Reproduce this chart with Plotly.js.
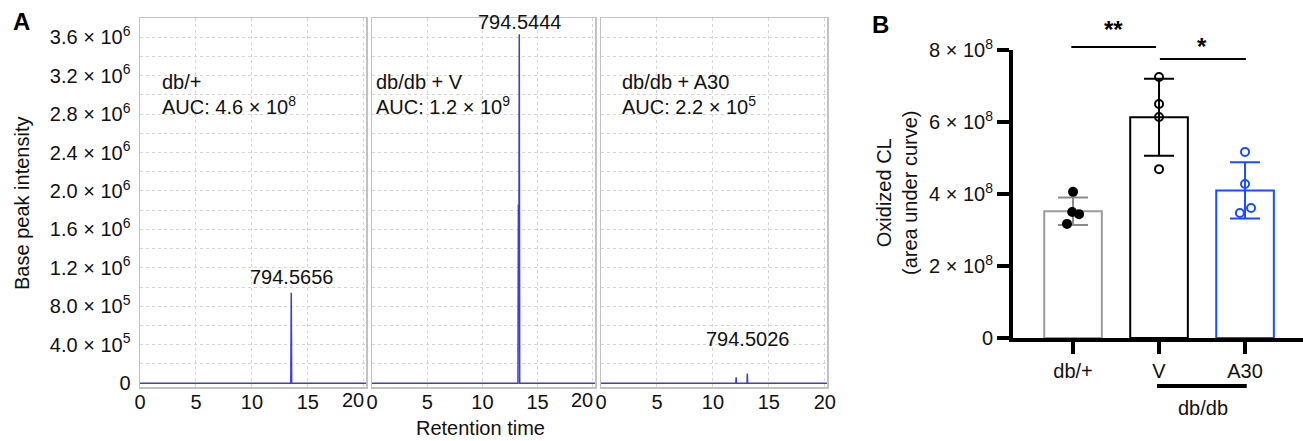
<!DOCTYPE html>
<html>
<head>
<meta charset="utf-8">
<script src="https://cdn.plot.ly/plotly-3.0.1.min.js"></script>
<style>html,body{margin:0;padding:0;background:#fff;}#chart{width:1303px;height:441px;}</style>
</head>
<body>
<div id="chart"></div>
<script>
// ---------- Panel A data (chromatograms) ----------
const rtDbPlus = [0, 13.48, 13.52, 13.56, 20.2];
const intDbPlus = [0, 0, 940000, 0, 0];
const rtDbV = [0, 13.22, 13.26, 13.30, 13.34, 13.38, 20.2];
const intDbV = [0, 0, 1860000, 900000, 3630000, 0, 0];
const rtDbA30 = [0, 12.05, 12.08, 12.11, 13.05, 13.08, 13.11, 20.2];
const intDbA30 = [0, 0, 60000, 0, 0, 100000, 0, 0];

const peakLabels = ["794.5656", "794.5444", "794.5026"];
const sampleNames = ["db/+", "db/db + V", "db/db + A30"];
const aucTexts = ["AUC: 4.6 × 10<sup>8</sup>", "AUC: 1.2 × 10<sup>9</sup>", "AUC: 2.2 × 10<sup>5</sup>"];

const intTickVals = [0, 200000, 400000, 600000, 800000, 1000000, 1200000, 1400000, 1600000, 1800000,
  2000000, 2200000, 2400000, 2600000, 2800000, 3000000, 3200000, 3400000, 3600000];
const intTickText = ["0", "", "4.0 × 10<sup>5</sup>", "", "8.0 × 10<sup>5</sup>", "", "1.2 × 10<sup>6</sup>", "",
  "1.6 × 10<sup>6</sup>", "", "2.0 × 10<sup>6</sup>", "", "2.4 × 10<sup>6</sup>", "", "2.8 × 10<sup>6</sup>", "",
  "3.2 × 10<sup>6</sup>", "", "3.6 × 10<sup>6</sup>"];
const rtTickVals = [0, 5, 10, 15, 20];
const rtTickText = ["0", "5", "10", "15", "20"];

// ---------- Panel B data ----------
const groups = ["db/+", "V", "A30"];
const groupPos = [0, 1, 2];
const means = [3.52e8, 6.13e8, 4.1e8];
const sds = [0.38e8, 1.07e8, 0.78e8];
const ptsDbPlusX = [0.0, -0.01, 0.07, -0.07];
const ptsDbPlusY = [4.06e8, 3.5e8, 3.44e8, 3.17e8];
const ptsVX = [0, 0, 0, 0];
const ptsVY = [7.25e8, 6.5e8, 6.14e8, 4.69e8];
const ptsA30X = [0, 0, 0.07, -0.06];
const ptsA30Y = [5.17e8, 4.28e8, 3.61e8, 3.47e8];
const barColors = ["#9b9b9b", "#000000", "#1a4dff"];
const bTickVals = [0, 2e8, 4e8, 6e8, 8e8];
const bTickText = ["0", "2 × 10<sup>8</sup>", "4 × 10<sup>8</sup>", "6 × 10<sup>8</sup>", "8 × 10<sup>8</sup>"];

const W = 1303, H = 441;
const px = v => v / W;
const py = v => 1 - v / H;
const FONT = "Liberation Sans, Arial, sans-serif";
const FS = 20;
const spike = "#3f3fcf";
const boxC = "#c2c2c2";
const gridC = "#d6d6d6";
const txt = "#111";

const traces = [
  {x: rtDbPlus, y: intDbPlus, xaxis: "x", yaxis: "y", type: "scatter", mode: "lines", line: {color: spike, width: 1.5}, hoverinfo: "skip"},
  {x: rtDbV, y: intDbV, xaxis: "x2", yaxis: "y2", type: "scatter", mode: "lines", line: {color: spike, width: 1.5}, hoverinfo: "skip"},
  {x: rtDbA30, y: intDbA30, xaxis: "x3", yaxis: "y3", type: "scatter", mode: "lines", line: {color: spike, width: 1.5}, hoverinfo: "skip"}
];

for (let i = 0; i < 3; i++) {
  traces.push({
    type: "bar", x: [groupPos[i]], y: [means[i]], xaxis: "x4", yaxis: "y4", width: 0.67,
    marker: {color: "rgba(255,255,255,0)", line: {color: barColors[i], width: 2}},
    error_y: {type: "data", array: [sds[i]], visible: true, color: barColors[i] === "#9b9b9b" ? "#8a8a8a" : barColors[i], thickness: 2, width: 15},
    hoverinfo: "skip"
  });
}
const ptSets = [[ptsDbPlusX, ptsDbPlusY, "circle", "#000000"], [ptsVX, ptsVY, "circle-open", "#000000"], [ptsA30X, ptsA30Y, "circle-open", "#1a4dff"]];
ptSets.forEach((s, i) => {
  traces.push({
    type: "scatter", mode: "markers", xaxis: "x4", yaxis: "y4",
    x: s[0].map(d => groupPos[i] + d), y: s[1],
    marker: {symbol: s[2], size: 8, color: s[3], line: {color: s[3], width: 2}},
    hoverinfo: "skip", cliponaxis: false
  });
});

// last label "20" of the first two panels is drawn right-aligned (as in the reference)
function rtAxis(d0, d1, shiftLast) {
  return {
    domain: [px(d0), px(d1)], range: [0, 20.2], tickmode: "array", tickvals: rtTickVals,
    ticktext: shiftLast ? rtTickText.map((t, i) => i === rtTickText.length - 1 ? "" : t) : rtTickText,
    showline: true, mirror: true, linecolor: boxC, linewidth: 1.5,
    showgrid: true, gridcolor: gridC, griddash: "dot", gridwidth: 1, zeroline: false,
    ticks: "", ticklabelstandoff: -4,
    tickfont: {family: FONT, size: FS, color: txt}, fixedrange: true
  };
}
function intAxis(showLabels) {
  return {
    domain: [py(387), py(18)], range: [-40000, 3800000], tickmode: "array", tickvals: intTickVals,
    ticktext: showLabels ? intTickText : intTickVals.map(() => ""),
    showticklabels: showLabels,
    showline: true, mirror: true, linecolor: boxC, linewidth: 1.5,
    showgrid: true, gridcolor: gridC, griddash: "dot", gridwidth: 1, zeroline: false,
    ticks: showLabels ? "outside" : "", ticklen: 4, tickcolor: "rgba(0,0,0,0)",
    tickfont: {family: FONT, size: FS, color: txt}, fixedrange: true
  };
}

const layout = {
  width: W, height: H, margin: {l: 0, r: 0, t: 0, b: 0},
  paper_bgcolor: "#fff", plot_bgcolor: "rgba(0,0,0,0)",
  showlegend: false, barmode: "overlay",
  font: {family: FONT, size: FS, color: txt},
  xaxis: rtAxis(140, 366, true),
  yaxis: intAxis(true),
  xaxis2: Object.assign(rtAxis(372, 595, true), {anchor: "y2"}),
  yaxis2: Object.assign(intAxis(false), {anchor: "x2"}),
  xaxis3: Object.assign(rtAxis(601, 827, false), {anchor: "y3"}),
  yaxis3: Object.assign(intAxis(false), {anchor: "x3"}),
  xaxis4: {
    domain: [px(1013), 1], range: [-0.698, 2.674], anchor: "y4",
    tickmode: "array", tickvals: groupPos, ticktext: groups,
    showline: true, linecolor: "#000", linewidth: 4, showgrid: false, zeroline: false,
    ticks: "outside", ticklen: 12, tickwidth: 4, tickcolor: "#000",
    tickfont: {family: FONT, size: FS, color: txt}, fixedrange: true
  },
  yaxis4: {
    domain: [py(338), py(50)], range: [0, 8e8], anchor: "x4",
    tickmode: "array", tickvals: bTickVals, ticktext: bTickText,
    showline: true, linecolor: "#000", linewidth: 4, showgrid: false, zeroline: false,
    ticks: "outside", ticklen: 12, tickwidth: 4, tickcolor: "#000",
    tickfont: {family: FONT, size: FS, color: txt}, fixedrange: true
  },
  annotations: [],
  shapes: []
};

const ann = layout.annotations;
function pAnn(x, y, text, extra) {
  ann.push(Object.assign({xref: "paper", yref: "paper", x: px(x), y: py(y), xanchor: "center", yanchor: "middle",
    text: text, showarrow: false, font: {family: FONT, size: FS, color: txt}}, extra || {}));
}
// Panel letters
pAnn(21, 22, "<b>A</b>", {font: {family: FONT, size: 24, color: "#000"}});
pAnn(881, 25, "<b>B</b>", {font: {family: FONT, size: 24, color: "#000"}});
// Panel A axis titles
pAnn(22, 204, "Base peak intensity", {textangle: -90});
pAnn(480, 428, "Retention time");
// right-aligned "20" tick labels of panels 1 and 2
["x", "x2"].forEach(xr => {
  ann.push({xref: xr, yref: "paper", x: rtTickVals[rtTickVals.length - 1], y: py(400), xanchor: "right", yanchor: "middle", xshift: 2,
    text: rtTickText[rtTickText.length - 1], showarrow: false, font: {family: FONT, size: FS, color: txt}});
});
// Sample labels and peak labels
const axNames = ["", "2", "3"];
const labelX = [1.75, 0.2, 1.7];
const peakX = [13.52, 13.34, 13.08];
const peakY = [940000, 3630000, 100000];
const peakShift = [3, -1, 22];
for (let i = 0; i < 3; i++) {
  ann.push({xref: "x" + axNames[i], yref: "y" + axNames[i], x: labelX[i], y: 3.13e6, xanchor: "left", yanchor: "middle",
    text: sampleNames[i], showarrow: false, font: {family: FONT, size: FS, color: txt}});
  ann.push({xref: "x" + axNames[i], yref: "y" + axNames[i], x: labelX[i], y: 2.89e6, xanchor: "left", yanchor: "middle",
    text: aucTexts[i], showarrow: false, font: {family: FONT, size: FS, color: txt}});
  ann.push({xref: "x" + axNames[i], yref: "y" + axNames[i], x: peakX[i], y: peakY[i], xanchor: "center", yanchor: "bottom", yshift: peakShift[i],
    text: peakLabels[i], showarrow: false, font: {family: FONT, size: FS, color: txt}});
}
// Panel B y title
pAnn(897, 193, "Oxidized CL<br>(area under curve)", {textangle: -90});
// Significance
pAnn(1113, 30, "<b>**</b>", {font: {family: FONT, size: 24, color: "#000"}});
pAnn(1202, 47, "<b>*</b>", {font: {family: FONT, size: 24, color: "#000"}});
pAnn(1203, 408, "db/db");

layout.shapes.push({type: "line", xref: "x4", yref: "paper", x0: -0.02, x1: 0.965, y0: py(47), y1: py(47), line: {color: "#000", width: 2}});
layout.shapes.push({type: "line", xref: "x4", yref: "paper", x0: 1.01, x1: 2.01, y0: py(59), y1: py(59), line: {color: "#000", width: 2}});
layout.shapes.push({type: "line", xref: "x4", yref: "paper", x0: 0.977, x1: 2.02, y0: py(386), y1: py(386), line: {color: "#000", width: 4}});

Plotly.newPlot("chart", traces, layout, {staticPlot: true, displayModeBar: false});
</script>
</body>
</html>
